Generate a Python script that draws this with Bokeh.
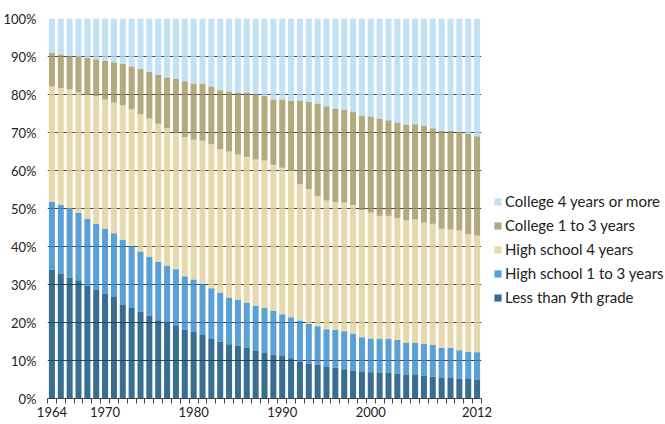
from bokeh.plotting import figure
from bokeh.models import (ColumnDataSource, FixedTicker, PrintfTickFormatter,
                          Legend, LegendItem)
from bokeh.embed import file_html
from bokeh.resources import INLINE

years = list(range(1964, 2013))

less_than_9th = [33.9, 32.9, 31.8, 31.1, 29.6, 28.7, 27.5, 26.7, 24.6, 23.8,
                 22.8, 21.8, 20.6, 20.0, 19.3, 18.1, 17.5, 16.7, 15.8, 15.0,
                 14.3, 13.9, 13.3, 12.6, 12.0, 11.5, 11.2, 10.6, 9.6, 9.1,
                 8.9, 8.3, 8.1, 7.7, 7.3, 7.0, 6.9, 6.7, 6.7, 6.5,
                 6.2, 6.2, 6.0, 5.7, 5.4, 5.4, 5.2, 5.1, 4.9]
hs_1_to_3 = [17.9, 18.1, 18.2, 17.7, 17.7, 17.2, 17.2, 16.8, 17.2, 16.3,
             15.9, 15.5, 15.3, 14.9, 14.7, 14.1, 13.8, 13.5, 13.2, 12.8,
             12.3, 12.1, 11.9, 11.8, 11.8, 11.5, 11.0, 10.8, 10.9, 10.5,
             10.1, 9.9, 10.0, 10.0, 9.7, 9.1, 8.9, 9.0, 9.0, 8.9,
             8.5, 8.4, 8.4, 8.4, 7.9, 7.9, 7.5, 7.2, 7.3]
hs_4 = [30.3, 30.7, 31.3, 31.7, 32.6, 33.7, 34.0, 34.4, 35.4, 36.0,
        36.2, 36.4, 36.4, 36.2, 36.0, 36.6, 36.8, 37.6, 37.9, 37.8,
        38.4, 38.2, 38.4, 38.5, 38.8, 38.5, 38.5, 38.6, 35.9, 35.5,
        34.3, 33.9, 33.6, 33.9, 33.9, 33.5, 33.1, 32.4, 32.4, 32.1,
        32.2, 32.5, 31.9, 31.9, 31.4, 31.2, 31.5, 30.9, 30.7]
college_1_to_3 = [8.8, 8.8, 8.9, 9.4, 9.7, 9.7, 10.2, 10.6, 10.8, 11.3,
                  11.8, 12.3, 12.9, 13.4, 14.2, 14.7, 14.8, 15.0, 15.2, 15.5,
                  15.8, 16.3, 16.9, 17.2, 17.0, 17.2, 18.0, 18.4, 22.0, 23.0,
                  24.3, 24.8, 24.6, 24.4, 24.6, 24.9, 25.3, 25.6, 25.1, 25.1,
                  25.2, 25.1, 25.5, 25.1, 25.7, 25.9, 26.0, 26.4, 26.1]
college_4_plus = [9.1, 9.5, 9.8, 10.1, 10.4, 10.7, 11.1, 11.5, 12.0, 12.6,
                  13.3, 14.0, 14.8, 15.5, 15.8, 16.5, 17.1, 17.2, 17.9, 18.9,
                  19.2, 19.5, 19.5, 19.9, 20.4, 21.3, 21.3, 21.6, 21.6, 21.9,
                  22.4, 23.1, 23.7, 24.0, 24.5, 25.5, 25.8, 26.3, 26.8, 27.4,
                  27.9, 27.8, 28.2, 28.9, 29.6, 29.6, 29.8, 30.4, 31.0]

series_names = ["Less than 9th grade", "High school 1 to 3 years",
                "High school 4 years", "College 1 to 3 years",
                "College 4 years or more"]
keys = ["l9", "hs13", "hs4", "c13", "c4"]
# fill colours chosen so that at alpha 0.8 over white they give the target shade
fill_colors = ["#094a76", "#3188cd", "#e0d198", "#9f955d", "#b2daf3"]
label_years = [1964, 1970, 1980, 1990, 2000, 2012]

source = ColumnDataSource(dict(year=years, l9=less_than_9th, hs13=hs_1_to_3,
                               hs4=hs_4, c13=college_1_to_3, c4=college_4_plus))

FONT = "Lato"

p = figure(frame_width=434, frame_height=380,
           x_range=(1963.5, 2012.5), y_range=(0, 100),
           output_backend="svg", toolbar_location=None,
           min_border_left=46, min_border_top=18, min_border_bottom=25,
           min_border_right=0)
p.outline_line_color = None

renderers = p.vbar_stack(keys, x="year", width=0.68, source=source,
                         fill_color=fill_colors, fill_alpha=0.8,
                         line_color=None)

# y axis
p.yaxis.ticker = FixedTicker(ticks=list(range(0, 101, 10)))
p.yaxis.formatter = PrintfTickFormatter(format="%d%%")
p.yaxis.axis_line_color = None
p.yaxis.major_tick_line_color = None
p.yaxis.minor_tick_line_color = None
p.yaxis.major_label_standoff = 5
p.yaxis.major_label_text_font = FONT
p.yaxis.major_label_text_font_size = "13px"
p.yaxis.major_label_text_color = "#222222"

# x axis
p.xaxis.ticker = FixedTicker(ticks=label_years,
                             minor_ticks=[y - 0.5 for y in range(1964, 2014)])
p.xaxis.major_tick_in = 0
p.xaxis.major_tick_out = 0
p.xaxis.minor_tick_in = 0
p.xaxis.minor_tick_out = 5
p.xaxis.minor_tick_line_color = "#444444"
p.xaxis.axis_line_color = "#444444"
p.xaxis.major_label_standoff = 3
p.xaxis.major_label_text_font = FONT
p.xaxis.major_label_text_font_size = "13px"
p.xaxis.major_label_text_color = "#222222"

# grid
p.xgrid.visible = False
p.ygrid.grid_line_color = "#444444"
p.ygrid.grid_line_width = 1

items = [LegendItem(label=name, renderers=[r])
         for name, r in zip(series_names, renderers)][::-1]
legend = Legend(items=items, location=(12, 92))
legend.border_line_color = None
legend.background_fill_alpha = 0
legend.padding = 0
legend.margin = 0
legend.glyph_width = 9
legend.glyph_height = 9
legend.label_height = 17
legend.spacing = 6
legend.label_standoff = 3
legend.label_text_font = FONT
legend.label_text_font_size = "15px"
legend.label_text_color = "#222222"
p.add_layout(legend, "right")

open("out.html", "w").write(file_html(p, INLINE))
